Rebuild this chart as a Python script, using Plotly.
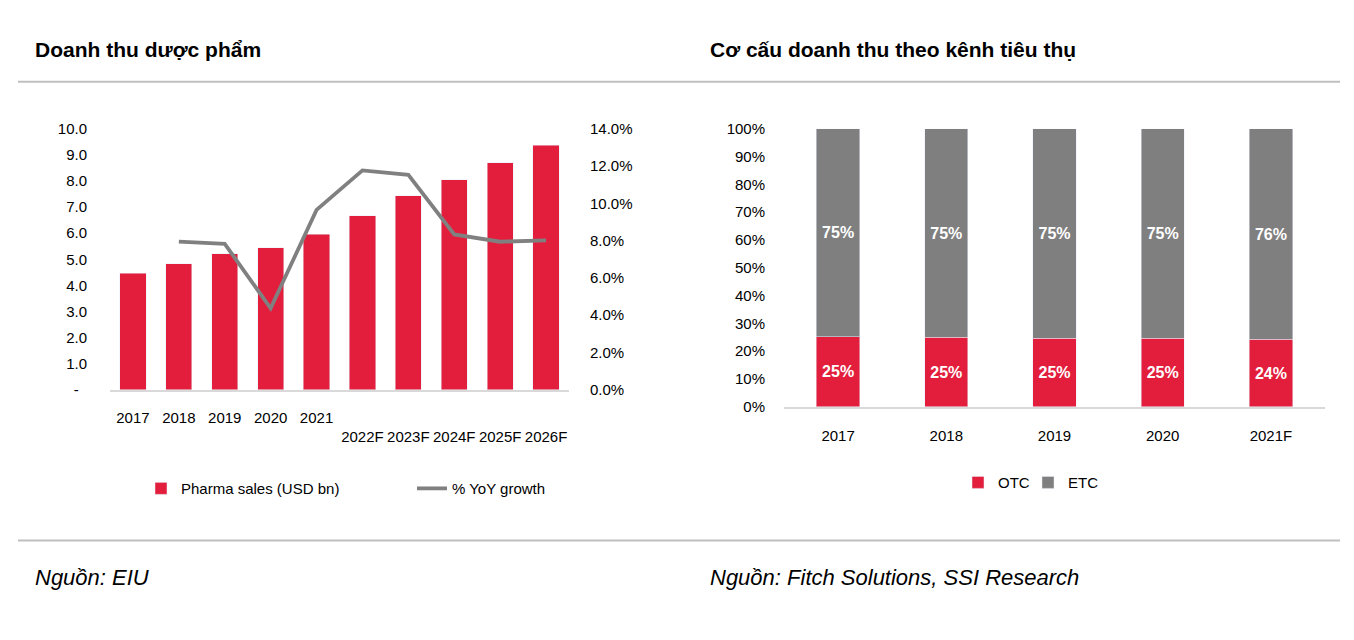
import plotly.graph_objects as go

W, H = 1354, 640

# ---- data ----
years_left = ["2017", "2018", "2019", "2020", "2021", "2022F", "2023F", "2024F", "2025F", "2026F"]
tick_left = ["2017", "2018", "2019", "2020", "2021",
             "<br>2022F", "<br>2023F", "<br>2024F", "<br>2025F", "<br>2026F"]
pharma_sales = [4.47, 4.82, 5.22, 5.44, 5.96, 6.66, 7.43, 8.05, 8.70, 9.38]
yoy_growth = [None, 7.95, 7.83, 4.37, 9.65, 11.77, 11.53, 8.33, 7.94, 8.01]
left_y_ticks = [0, 1, 2, 3, 4, 5, 6, 7, 8, 9, 10]
left_y_text = ["-\u00a0\u00a0", "1.0", "2.0", "3.0", "4.0", "5.0", "6.0", "7.0", "8.0", "9.0", "10.0"]
right_y_ticks = [0, 2, 4, 6, 8, 10, 12, 14]
right_y_text = ["0.0%", "2.0%", "4.0%", "6.0%", "8.0%", "10.0%", "12.0%", "14.0%"]

years_right = ["2017", "2018", "2019", "2020", "2021F"]
otc = [25.2, 24.9, 24.7, 24.6, 24.2]
etc = [74.8, 75.1, 75.3, 75.4, 75.8]
share_ticks = [0, 10, 20, 30, 40, 50, 60, 70, 80, 90, 100]
share_text = ["0%", "10%", "20%", "30%", "40%", "50%", "60%", "70%", "80%", "90%", "100%"]

RED = "#E21E3C"
GRAY = "#7F7F7F"
LINE_GRAY = "#808080"
FONT = "Liberation Sans Narrow, Arial Narrow, Liberation Sans, Arial, sans-serif"

def px(x):
    return x / W

def py(y):
    # vertical placement (compensated for the observed rendering offset)
    return 1 - ((y - 9.1) / 0.974) / H

fig = go.Figure()

fig.add_trace(go.Bar(
    x=years_left, y=pharma_sales, name="Pharma sales (USD bn)",
    marker_color=RED, xaxis="x", yaxis="y", legend="legend",
))
fig.add_trace(go.Scatter(
    x=years_left, y=yoy_growth, name="% YoY growth", mode="lines",
    line=dict(color=LINE_GRAY, width=3.8), xaxis="x", yaxis="y2", legend="legend4",
))

label_font = dict(color="white", size=16, family=FONT, weight="bold")
fig.add_trace(go.Bar(
    x=years_right, y=otc, name="OTC", marker_color=RED, width=0.4,
    texttemplate="%{y:.0f}%", textposition="inside", insidetextanchor="middle",
    textfont=label_font, xaxis="x3", yaxis="y3", legend="legend2",
))
fig.add_trace(go.Bar(
    x=years_right, y=etc, name="ETC", marker_color=GRAY, width=0.4,
    texttemplate="%{y:.0f}%", textposition="inside", insidetextanchor="middle",
    textfont=label_font, xaxis="x3", yaxis="y3", legend="legend3",
))

axis_font = dict(family=FONT, size=15, color="#000000")
leg_common = dict(orientation="h", xanchor="left", yanchor="middle",
                  font=dict(family=FONT, size=15), bgcolor="rgba(0,0,0,0)", itemwidth=30)

fig.update_layout(
    width=W, height=H,
    margin=dict(l=0, r=0, t=0, b=0),
    paper_bgcolor="white", plot_bgcolor="white",
    font=dict(family=FONT, size=15, color="#000000"),
    barmode="stack",
    showlegend=True,
    xaxis=dict(domain=[px(110), px(569)], tickvals=years_left, ticktext=tick_left,
               tickfont=axis_font, showline=True, linecolor="#D9D9D9", linewidth=2,
               showgrid=False, ticks="", ticklabelstandoff=13, fixedrange=True),
    yaxis=dict(domain=[py(390), py(129)], range=[0, 10], tickvals=left_y_ticks,
               ticktext=left_y_text, tickfont=axis_font, showgrid=False,
               zeroline=False, ticks="", ticklabelstandoff=22, anchor="x"),
    yaxis2=dict(domain=[py(390), py(129)], range=[0, 14], overlaying="y", side="right",
                tickvals=right_y_ticks, ticktext=right_y_text,
                tickfont=axis_font, showgrid=False, zeroline=False, ticks="",
                ticklabelstandoff=20, anchor="x"),
    xaxis3=dict(domain=[px(784), px(1325)], tickfont=axis_font, showline=True,
                linecolor="#D9D9D9", linewidth=2, showgrid=False, ticks="",
                ticklabelstandoff=14, anchor="y3"),
    yaxis3=dict(domain=[py(407), py(129)], range=[0, 100], tickvals=share_ticks,
                ticktext=share_text, tickfont=axis_font, showgrid=False, zeroline=False,
                ticks="", ticklabelstandoff=18, anchor="x3"),
    bargap=0.43,
    legend=dict(x=px(141), y=py(489), **leg_common),
    legend4=dict(x=px(412), y=py(489), **leg_common),
    legend2=dict(x=px(958), y=py(483), **leg_common),
    legend3=dict(x=px(1028), y=py(483), **leg_common),
)

# titles
title_font = dict(family=FONT, size=21, color="#000000")
fig.add_annotation(text="<b>Doanh thu dược phẩm</b>", x=px(33), y=py(50), xref="paper", yref="paper",
                   xanchor="left", yanchor="middle", showarrow=False, font=title_font)
fig.add_annotation(text="<b>Cơ cấu doanh thu theo kênh tiêu thụ</b>", x=px(708), y=py(50),
                   xref="paper", yref="paper", xanchor="left", yanchor="middle", showarrow=False,
                   font=title_font)
# sources
src_font = dict(family=FONT, size=22, color="#000000")
fig.add_annotation(text="<i>Nguồn: EIU</i>", x=px(33), y=py(578), xref="paper", yref="paper",
                   xanchor="left", yanchor="middle", showarrow=False, font=src_font)
fig.add_annotation(text="<i>Nguồn: Fitch Solutions, SSI Research</i>", x=px(708), y=py(578),
                   xref="paper", yref="paper", xanchor="left", yanchor="middle", showarrow=False,
                   font=src_font)

# separator lines
for yy in (82, 541):
    fig.add_shape(type="line", xref="paper", yref="paper", x0=px(18), x1=px(1340),
                  y0=py(yy), y1=py(yy), line=dict(color="#BFBFBF", width=2))

fig.write_html("out.html")
